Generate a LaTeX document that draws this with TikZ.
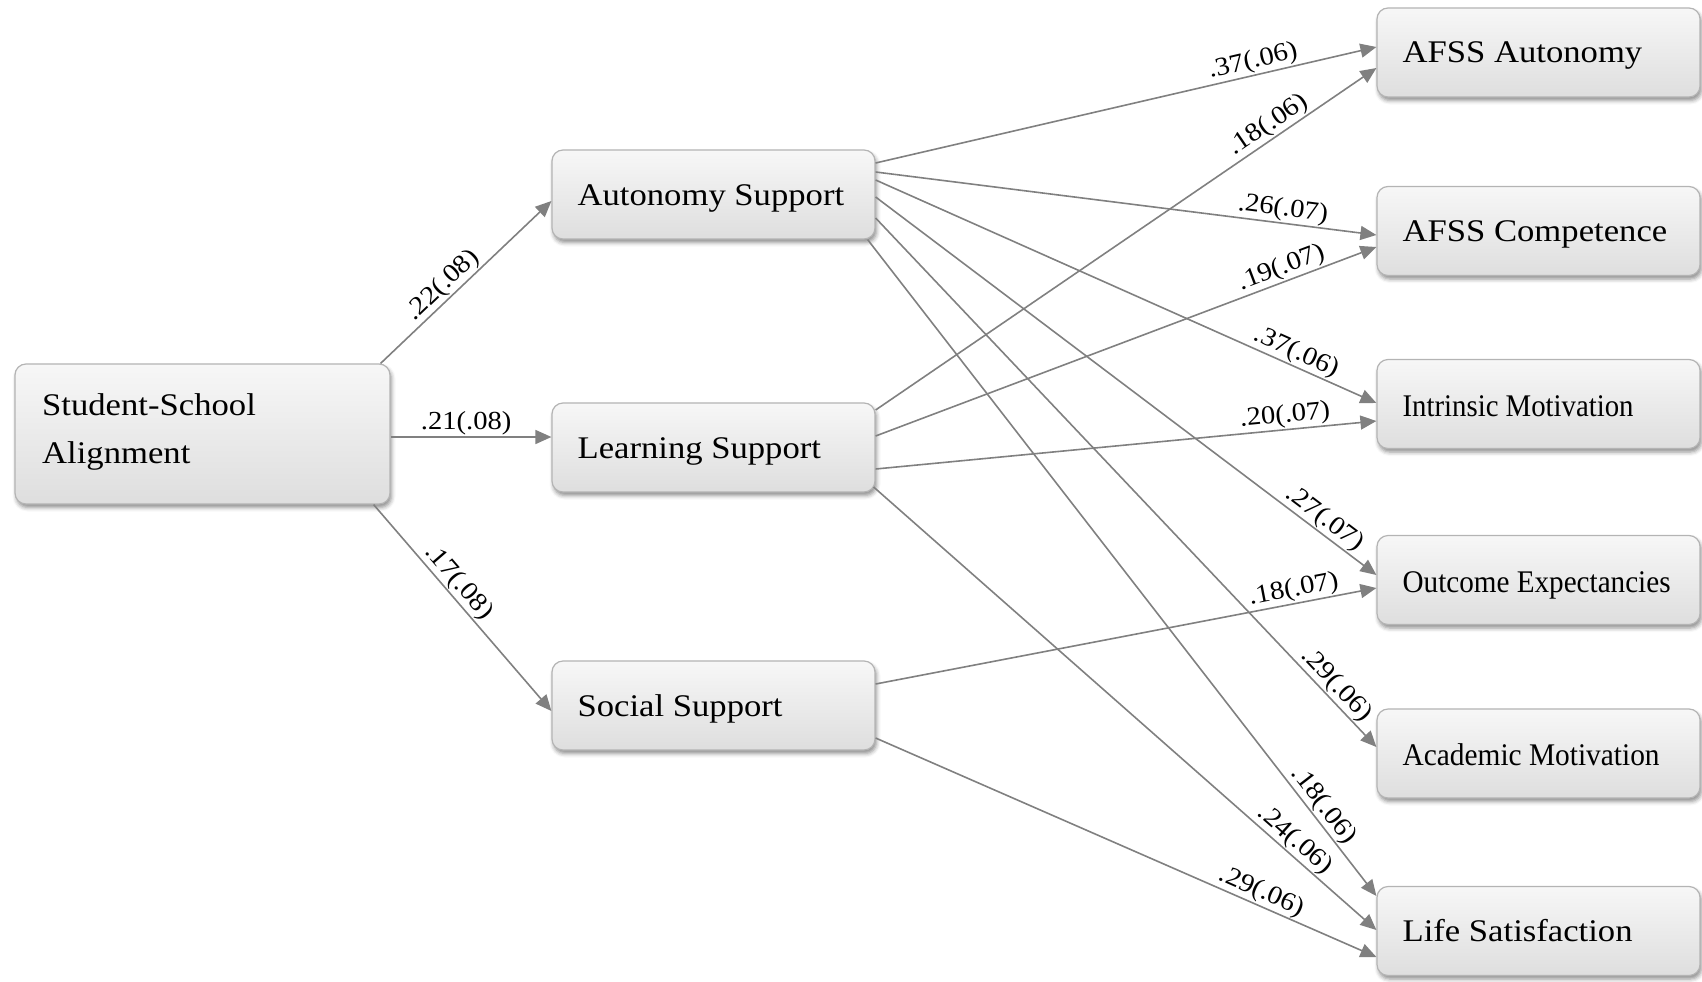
\documentclass[tikz,border=0pt]{standalone}
\usepackage{fontspec}
\setmainfont{Liberation Serif}[FakeStretch=1.1]
\usetikzlibrary{arrows.meta,shadows.blur,calc}
\definecolor{boxborder}{HTML}{B4B4B4}
\definecolor{boxtop}{HTML}{F7F7F7}
\definecolor{boxbot}{HTML}{DEDEDE}
\definecolor{linegray}{HTML}{808080}
\begin{document}
\begin{tikzpicture}[x=1pt,y=-1pt,
  box/.style={draw=boxborder, line width=1.2pt, rounded corners=11pt,
    top color=boxtop, bottom color=boxbot, minimum width=323pt, minimum height=89pt,
    inner sep=0pt, blur shadow={shadow xshift=1.5pt, shadow yshift=-3.5pt, shadow blur radius=4pt, shadow opacity=45}},
  btxt/.style={anchor=base west, inner sep=0pt, font=\fontsize{31.5}{38}\selectfont},
  conn/.style={draw=linegray, line width=1.6pt, -{Triangle[length=16pt,width=14pt]}},
  lab/.style={sloped, above, inner sep=1pt, text=black, font=\fontsize{26}{30}\selectfont}]
\useasboundingbox (0,0) rectangle (1702,982);

% boxes
\node[box, minimum width=375pt, minimum height=140pt] (ssa) at (202.5,434) {};
\node[box] (as) at (713.5,194.5) {};
\node[box] (ls) at (713.5,447.5) {};
\node[box] (ss) at (713.5,705.5) {};
\node[box] (afa) at (1538.5,52.5) {};
\node[box] (afc) at (1538.5,231) {};
\node[box] (im) at (1538.5,404) {};
\node[box] (oe) at (1538.5,580) {};
\node[box] (am) at (1538.5,753.5) {};
\node[box] (lsat) at (1538.5,931) {};

% texts
\node[btxt] (ssaT1) at (42,415) {Student-School};
\node[btxt] (ssaT2) at (42,463) {Alignment};
\node[btxt] (asT) at ($(as.west)+(26,10.5)$) {Autonomy Support};
\node[btxt] (lsT) at ($(ls.west)+(26,10.5)$) {Learning Support};
\node[btxt] (ssT) at ($(ss.west)+(26,10.5)$) {Social Support};
\node[btxt] (afaT) at ($(afa.west)+(26,10.5)$) {AFSS Autonomy};
\node[btxt] (afcT) at ($(afc.west)+(26,10.5)$) {AFSS Competence};
\node[btxt] (imT) at ($(im.west)+(26,12)$) {\resizebox{231pt}{\height}{Intrinsic Motivation}};
\node[btxt] (oeT) at ($(oe.west)+(26,12)$) {\resizebox{268pt}{\height}{Outcome Expectancies}};
\node[btxt] (amT) at ($(am.west)+(26,12)$) {\resizebox{257pt}{\height}{Academic Motivation}};
\node[btxt] (lsatT) at ($(lsat.west)+(26,10.5)$) {Life Satisfaction};

% left connectors
\draw[conn] ([xshift=-10pt]ssa.north east) -- node[lab,pos=0.42] {.22(.08)} ([yshift=-6.5pt]as.west);
\draw[conn] ([yshift=-3pt]ssa.east) -- node[lab,pos=0.47] {.21(.08)} ([yshift=10.5pt]ls.west);
\draw[conn] ([xshift=-17pt]ssa.south east) -- node[lab,pos=0.42] {.17(.08)} ([yshift=-5.5pt]ss.west);

% from Autonomy Support
\draw[conn] ([yshift=31.5pt]as.east) -- node[lab,pos=0.76] {.37(.06)} ([yshift=5.5pt]afa.west);
\draw[conn] ([yshift=22.5pt]as.east) -- node[lab,pos=0.81] {.26(.07)} ([yshift=-4pt]afc.west);
\draw[conn] ([yshift=14.5pt]as.east) -- node[lab,pos=0.83] {.37(.06)} ([yshift=1pt]im.west);
\draw[conn] ([yshift=-2.5pt]as.east) -- node[lab,pos=0.88] {.27(.07)} ([yshift=5pt]oe.west);
\draw[conn] ([yshift=-23.5pt]as.east) -- node[lab,pos=0.90] {.29(.06)} ([yshift=6.5pt]am.west);
\draw[conn] ([xshift=-8pt]as.south east) -- node[lab,pos=0.875] {.18(.06)} ([yshift=35pt]lsat.west);

% from Learning Support
\draw[conn] ([yshift=37.5pt]ls.east) -- node[lab,pos=0.80] {.18(.06)} ([yshift=-15.5pt]afa.west);
\draw[conn] ([yshift=11.5pt]ls.east) -- node[lab,pos=0.82] {.19(.07)} ([yshift=-16pt]afc.west);
\draw[conn] ([yshift=-21.5pt]ls.east) -- node[lab,pos=0.82] {.20(.07)} ([yshift=-17pt]im.west);
\draw[conn] ([xshift=-2pt,yshift=-39.5pt]ls.east) -- node[lab,pos=0.82] {.24(.06)} ([yshift=1pt]lsat.west);

% from Social Support
\draw[conn] ([yshift=21.5pt]ss.east) -- node[lab,pos=0.84] {.18(.07)} ([yshift=-8pt]oe.west);
\draw[conn] ([yshift=-32.5pt]ss.east) -- node[lab,pos=0.76] {.29(.06)} ([yshift=-26pt]lsat.west);
\end{tikzpicture}
\end{document}
